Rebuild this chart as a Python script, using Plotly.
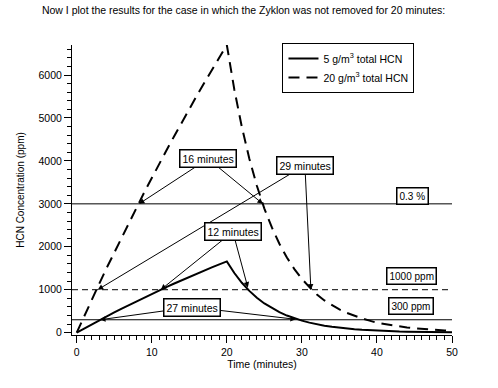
import plotly.graph_objects as go

# ---- data ----
time_min = [0, 1, 2, 3, 4, 5, 6, 7, 8, 9, 10, 11, 12, 13, 14, 15, 16, 17, 18, 19, 20,
            21, 22, 23, 24, 25, 26, 27, 28, 29, 30, 31, 32, 33, 34, 35, 36, 37, 38, 39, 40,
            41, 42, 43, 44, 45, 46, 47, 48, 49, 50]
hcn_5g = [0, 98, 193, 288, 380, 471, 561, 648, 735, 820, 903, 985, 1065, 1144, 1222, 1298,
          1373, 1447, 1520, 1591, 1660,
          1389, 1162, 972, 813, 680, 569, 476, 398, 333, 279, 233, 195, 163, 137, 114, 96,
          80, 67, 56, 47, 39, 33, 27, 23, 19, 16, 13, 11, 9, 8]
hcn_20g = [0, 390, 770, 1140, 1510, 1870, 2230, 2580, 2930, 3270, 3600, 3940, 4260, 4580,
           4900, 5210, 5520, 5820, 6110, 6410, 6700,
           5660, 4790, 4050, 3420, 2890, 2450, 2070, 1750, 1480, 1250, 1060, 890, 750, 640,
           540, 460, 390, 330, 280, 230, 200, 170, 140, 120, 100, 85, 72, 61, 51, 43]

threshold_values = [3000, 1000, 300]
threshold_dash = ["solid", "6px,4px", "solid"]
threshold_labels = ["0.3 %", "1000 ppm", "300 ppm"]
threshold_label_pos = [(44.8, 3190), (44.6, 1318), (44.6, 627)]

# duration labels: (text, box centre, [arrow tips])
duration_labels = [
    ("16 minutes", (17.5, 4050), [(8.3, 3000), (24.8, 3000)]),
    ("29 minutes", (30.4, 3900), [(2.8, 1000), (31.2, 1000)]),
    ("12 minutes", (20.8, 2350), [(11.2, 1000), (22.8, 1050)]),
    ("27 minutes", (15.3, 596), [(3.1, 300), (29.2, 310)]),
]

FONT = "Liberation Sans, Arial, sans-serif"

fig = go.Figure()
fig.add_trace(go.Scatter(x=time_min, y=hcn_5g, mode="lines",
                         name="5 g/m<sup>3</sup> total HCN",
                         line=dict(color="black", width=2)))
fig.add_trace(go.Scatter(x=time_min, y=hcn_20g, mode="lines",
                         name="20 g/m<sup>3</sup> total HCN",
                         line=dict(color="black", width=2, dash="11px,7px")))

for val, dash in zip(threshold_values, threshold_dash):
    fig.add_shape(type="line", xref="paper", x0=0, x1=1, yref="y", y0=val, y1=val,
                  line=dict(color="black", width=1, dash=dash))

annotations = []
# arrows first (no text) so the boxes are drawn over their tails
for text, (cx, cy), tips in duration_labels:
    for (hx, hy) in tips:
        annotations.append(dict(x=hx, y=hy, xref="x", yref="y",
                                ax=cx, ay=cy, axref="x", ayref="y",
                                text="", showarrow=True,
                                arrowhead=2, arrowsize=1.1, arrowwidth=1, arrowcolor="black"))
for text, (cx, cy), tips in duration_labels:
    annotations.append(dict(x=cx, y=cy, xref="x", yref="y", text=text, showarrow=False,
                            font=dict(family=FONT, size=10.5, color="black"),
                            bgcolor="white", bordercolor="black",
                            borderwidth=1.5, borderpad=2))
for text, (cx, cy) in zip(threshold_labels, threshold_label_pos):
    annotations.append(dict(x=cx, y=cy, xref="x", yref="y", text=text, showarrow=False,
                            font=dict(family=FONT, size=10, color="black"),
                            bgcolor="white", bordercolor="black", borderwidth=1.5, borderpad=2))

fig.update_layout(
    width=498, height=388,
    margin=dict(l=72, r=46, t=45, b=53),
    paper_bgcolor="white", plot_bgcolor="white",
    font=dict(family=FONT, size=10, color="black"),
    title=dict(text="Now I plot the results for the case in which the Zyklon was not removed for 20 minutes:",
               x=0.489, xref="container", xanchor="center",
               y=0.974, yref="container", yanchor="middle",
               font=dict(family=FONT, size=10.5, color="black")),
    showlegend=True,
    legend=dict(x=0.7276, y=1.007, xanchor="center", yanchor="top",
                bordercolor="black", borderwidth=1, bgcolor="white",
                font=dict(family=FONT, size=10.5, color="black"),
                itemwidth=30, tracegroupgap=2),
    annotations=annotations,
)

fig.update_xaxes(range=[-0.63, 50], showgrid=False, zeroline=False,
                 showline=True, linecolor="black", linewidth=1,
                 ticks="outside", ticklen=7, tickcolor="black", tickwidth=1,
                 dtick=10, tick0=0,
                 minor=dict(dtick=1, ticks="outside", ticklen=4, tickcolor="black"),
                 title=dict(text="Time (minutes)", font=dict(family=FONT, size=10.5), standoff=4),
                 tickfont=dict(family=FONT, size=10.5))
fig.update_yaxes(range=[-55, 6700], showgrid=False, zeroline=False,
                 showline=True, linecolor="black", linewidth=1,
                 ticks="outside", ticklen=7, tickcolor="black", tickwidth=1,
                 dtick=1000, tick0=0,
                 minor=dict(dtick=200, ticks="outside", ticklen=4, tickcolor="black"),
                 title=dict(text="HCN Concentration (ppm)", font=dict(family=FONT, size=10), standoff=12),
                 tickfont=dict(family=FONT, size=10.5))

fig.write_html("out.html", config={"displayModeBar": False},
               post_script="document.body.style.margin='0';")
